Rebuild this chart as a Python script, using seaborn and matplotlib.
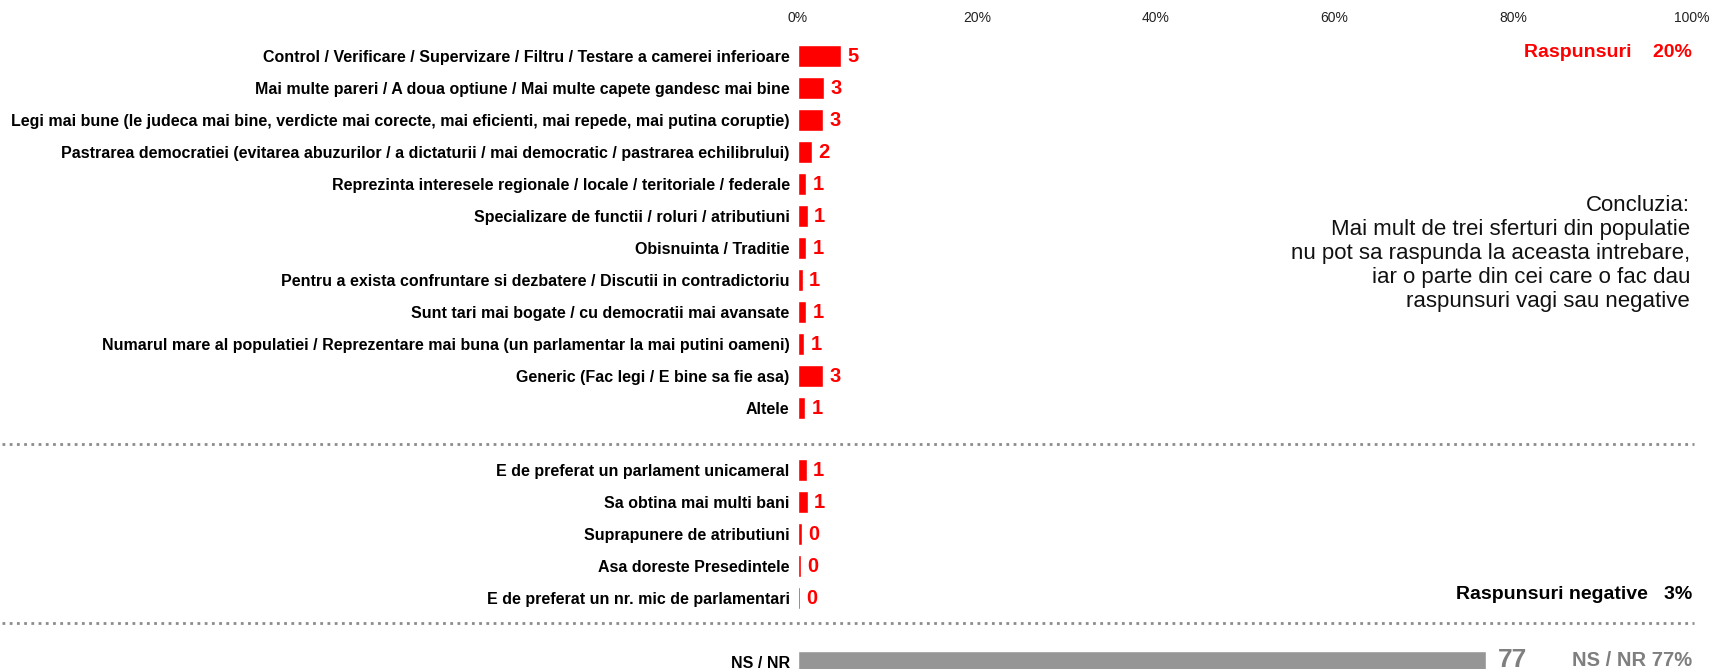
import matplotlib
matplotlib.use("Agg")

import matplotlib.pyplot as plt
import pandas as pd
import seaborn as sns

# Reasons given (percent of respondents)
REASONS = [
    "Control / Verificare / Supervizare / Filtru / Testare a camerei inferioare",
    "Mai multe pareri / A doua optiune / Mai multe capete gandesc mai bine",
    "Legi mai bune (le judeca mai bine, verdicte mai corecte, mai eficienti, mai repede, mai putina coruptie)",
    "Pastrarea democratiei (evitarea abuzurilor / a dictaturii / mai democratic / pastrarea echilibrului)",
    "Reprezinta interesele regionale / locale / teritoriale / federale",
    "Specializare de functii / roluri / atributiuni",
    "Obisnuinta / Traditie",
    "Pentru a exista confruntare si dezbatere / Discutii in contradictoriu",
    "Sunt tari mai bogate / cu democratii mai avansate",
    "Numarul mare al populatiei / Reprezentare mai buna (un parlamentar la mai putini oameni)",
    "Generic (Fac legi / E bine sa fie asa)",
    "Altele",
]
REASON_VALUES = [4.8, 2.9, 2.8, 1.6, 0.9, 1.1, 0.9, 0.55, 0.9, 0.7, 2.8, 0.8]

NEGATIVE = [
    "E de preferat un parlament unicameral",
    "Sa obtina mai multi bani",
    "Suprapunere de atributiuni",
    "Asa doreste Presedintele",
    "E de preferat un nr. mic de parlamentari",
]
NEGATIVE_VALUES = [1.0, 1.1, 0.45, 0.35, 0.2]

NSNR_LABEL = "NS / NR"
NSNR_VALUE = 77

X_TICKS = [0, 20, 40, 60, 80, 100]
CONCLUSION = ("Concluzia:\nMai mult de trei sferturi din populatie\n"
              "nu pot sa raspunda la aceasta intrebare,\n"
              "iar o parte din cei care o fac dau\nraspunsuri vagi sau negative")

RED = "#FF0000"
GREY = "#969696"
GREY_TEXT = "#7F7F7F"

sns.set_theme(style="white")
plt.rcParams["font.family"] = ["Liberation Sans", "DejaVu Sans"]

# row layout (one unit = one row)
reason_pos = [float(i) for i in range(len(REASONS))]
negative_pos = [12.94 + i for i in range(len(NEGATIVE))]
nsnr_pos = 18.94

red_df = pd.DataFrame({
    "value": REASON_VALUES + NEGATIVE_VALUES,
    "pos": reason_pos + negative_pos,
})
grey_df = pd.DataFrame({"value": [NSNR_VALUE], "pos": [nsnr_pos]})

fig = plt.figure(figsize=(17.13, 6.69), dpi=100)
ax = fig.add_axes([798 / 1713, 0, 894 / 1713, 633 / 669])

sns.barplot(data=red_df, x="value", y="pos", orient="h", native_scale=True,
            color=RED, width=0.68, errorbar=None, saturation=1, ax=ax)
sns.barplot(data=grey_df, x="value", y="pos", orient="h", native_scale=True,
            color=GREY, width=0.68, errorbar=None, saturation=1, ax=ax)

ax.set_xlim(0, 100)
ax.set_ylim(19.156, -0.625)
ax.set_xlabel("")
ax.set_ylabel("")
for s in ax.spines.values():
    s.set_visible(False)

ax.xaxis.tick_top()
ax.set_xticks(X_TICKS, labels=[f"{t}%" for t in X_TICKS])
ax.tick_params(axis="x", length=0, pad=8, labelsize=10, labelcolor="#222222")

ax.set_yticks(reason_pos + negative_pos + [nsnr_pos],
              labels=REASONS + NEGATIVE + [NSNR_LABEL])
ax.tick_params(axis="y", length=0, pad=6, labelsize=11.5)
for lbl in ax.get_yticklabels():
    lbl.set_fontweight("bold")
    lbl.set_color("black")

# value labels
for v, p in zip(REASON_VALUES + NEGATIVE_VALUES, reason_pos + negative_pos):
    ax.annotate(f"{round(v)}", xy=(v, p), xytext=(4.5, 0), textcoords="offset points",
                ha="left", va="center", color=RED, fontsize=14.5, fontweight="bold")
# big grey number sits flush with the top of the NS/NR bar
ax.annotate(f"{NSNR_VALUE}", xy=(NSNR_VALUE, nsnr_pos), xytext=(8.5, 10.5),
            textcoords="offset points", ha="left", va="top",
            color=GREY_TEXT, fontsize=19, fontweight="bold", annotation_clip=False)

# dotted separators
for y in (12.125, 17.72):
    ax.plot([-89, 100.2], [y, y], ls=(0, (1, 1.6)), lw=2, color="#8c8c8c",
            clip_on=False)

# side summaries
ax.text(100, -0.125, "Raspunsuri    20%", ha="right", va="center",
        color=RED, fontsize=14, fontweight="bold")
ax.text(100, 16.84, "Raspunsuri negative   3%", ha="right", va="center",
        color="black", fontsize=14, fontweight="bold")
ax.text(100, 18.875, "NS / NR 77%", ha="right", va="center",
        color=GREY_TEXT, fontsize=14.5, fontweight="bold")
ax.text(99.8, 6.17, CONCLUSION, ha="right", va="center", multialignment="right",
        fontsize=16, color="#111111", linespacing=1.18)

fig.savefig("out.png", dpi=100, facecolor="white")
plt.close(fig)
